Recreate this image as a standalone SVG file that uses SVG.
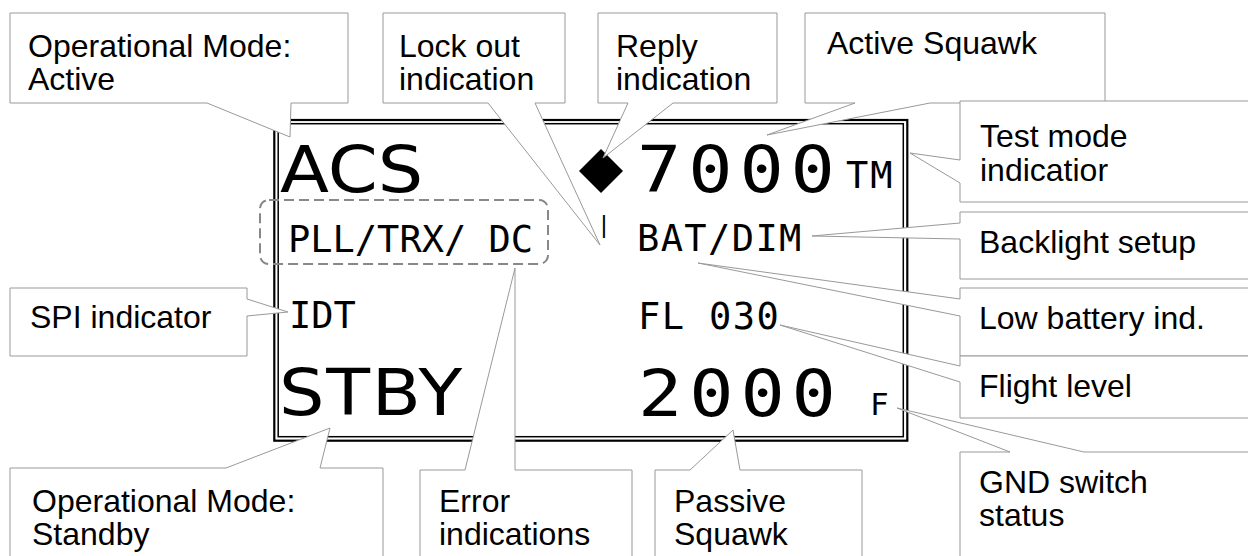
<svg xmlns="http://www.w3.org/2000/svg" width="1248" height="556" viewBox="0 0 1248 556">
<style>
.co{fill:#fff;stroke:#999;stroke-width:1}
.lbl{font-family:"Liberation Sans",Arial,sans-serif;font-size:32px;fill:#000}
.big{font-family:"DejaVu Sans",sans-serif;font-size:64px;fill:#000}
.dig{font-family:"DejaVu Sans Mono",monospace;font-size:64px;letter-spacing:6px;fill:#000}
.mono{font-family:"DejaVu Sans Mono",monospace;font-size:37px;fill:#000}
</style>
<rect width="1248" height="556" fill="#fff"/>
<g id="display">
<rect x="274.3" y="120" width="633" height="320.7" fill="#fff" stroke="#000" stroke-width="2.2"/>
<rect x="278.2" y="123.7" width="625.1" height="313" fill="none" stroke="#000" stroke-width="1.5"/>
<rect x="260" y="200" width="288" height="64" rx="9" fill="none" stroke="#888" stroke-width="2" stroke-dasharray="10,5"/>
<text class="big" transform="translate(280,192) scale(1.12,1)">ACS</text>
<text class="big" transform="translate(279,415) scale(1.12,1)" letter-spacing="1.5">STBY</text>
<polygon points="601,149 623,171 601,193 579,171" fill="#000"/>
<text class="dig" transform="translate(637,192) scale(1.15,1)">7000</text>
<text class="dig" transform="translate(638,416) scale(1.15,1)">2000</text>
<text class="mono" x="846" y="188" letter-spacing="2">TM</text>
<text class="mono" x="288" y="252">PLL/TRX/ DC</text>
<text class="mono" x="289" y="328">IDT</text>
<text class="mono" x="637" y="251" letter-spacing="1.4">BAT/DIM</text>
<text class="mono" x="638" y="329" letter-spacing="1.4">FL 030</text>
<text class="mono" x="870" y="415" style="font-size:31px">F</text>
<text class="mono" x="597" y="233" style="font-size:23px">|</text>
</g>
<g id="connectors">
<path class="co" d="M10,13 H348 V103 H291 L290,137 L207,103 H10 Z"/>
<path class="co" d="M383,13 H565 V103 H535 L600,245 L488,103 H383 Z"/>
<path class="co" d="M598,13 H777 V103 H673 L603,158 L628,103 H598 Z"/>
<path class="co" d="M805,13 H1105 V103 H930 L767,135 L855,103 H805 Z"/>
<path class="co" d="M960,101 H1260 V202 H960 V183 L910,153 L960,160 Z"/>
<path class="co" d="M960,212 H1260 V279 H960 V239 L812,236 L960,223 Z"/>
<path class="co" d="M960,288 H1260 V356 H960 V316 L698,263 L960,299 Z"/>
<path class="co" d="M960,356 H1260 V418 H960 V382 L780,325 L960,366 Z"/>
<path class="co" d="M960,452 H1010 L897,408 L1084,452 H1260 V570 H960 Z"/>
<path class="co" d="M655,470 H690 L733,430 L740,470 H862 V570 H655 Z"/>
<path class="co" d="M420,470 H465 L515,268 L515,470 H632 V570 H420 Z"/>
<path class="co" d="M10,468 H226 L330,428 L320,468 H383 V570 H10 Z"/>
<path class="co" d="M10,288 H247 V299 L288,312 L247,316 V356 H10 Z"/>
</g>
<g id="n-op-active"><text class="lbl" x="28" y="57">Operational Mode:</text><text class="lbl" x="28" y="90">Active</text></g>
<g id="n-lockout"><text class="lbl" x="399" y="57">Lock out</text><text class="lbl" x="399" y="90">indication</text></g>
<g id="n-reply"><text class="lbl" x="616" y="57">Reply</text><text class="lbl" x="616" y="90">indication</text></g>
<g id="n-active-squawk"><text class="lbl" x="827" y="54">Active Squawk</text></g>
<g id="n-test"><text class="lbl" x="980" y="147">Test mode</text><text class="lbl" x="980" y="181">indicatior</text></g>
<g id="n-backlight"><text class="lbl" x="979" y="253">Backlight setup</text></g>
<g id="n-lowbat"><text class="lbl" x="979" y="329">Low battery ind.</text></g>
<g id="n-flight"><text class="lbl" x="979" y="397">Flight level</text></g>
<g id="n-gnd"><text class="lbl" x="979" y="493">GND switch</text><text class="lbl" x="979" y="526">status</text></g>
<g id="n-spi"><text class="lbl" x="30" y="328">SPI indicator</text></g>
<g id="n-op-standby"><text class="lbl" x="32" y="512">Operational Mode:</text><text class="lbl" x="32" y="545">Standby</text></g>
<g id="n-error"><text class="lbl" x="439" y="512">Error</text><text class="lbl" x="439" y="545">indications</text></g>
<g id="n-passive"><text class="lbl" x="674" y="512">Passive</text><text class="lbl" x="674" y="545">Squawk</text></g>
</svg>
